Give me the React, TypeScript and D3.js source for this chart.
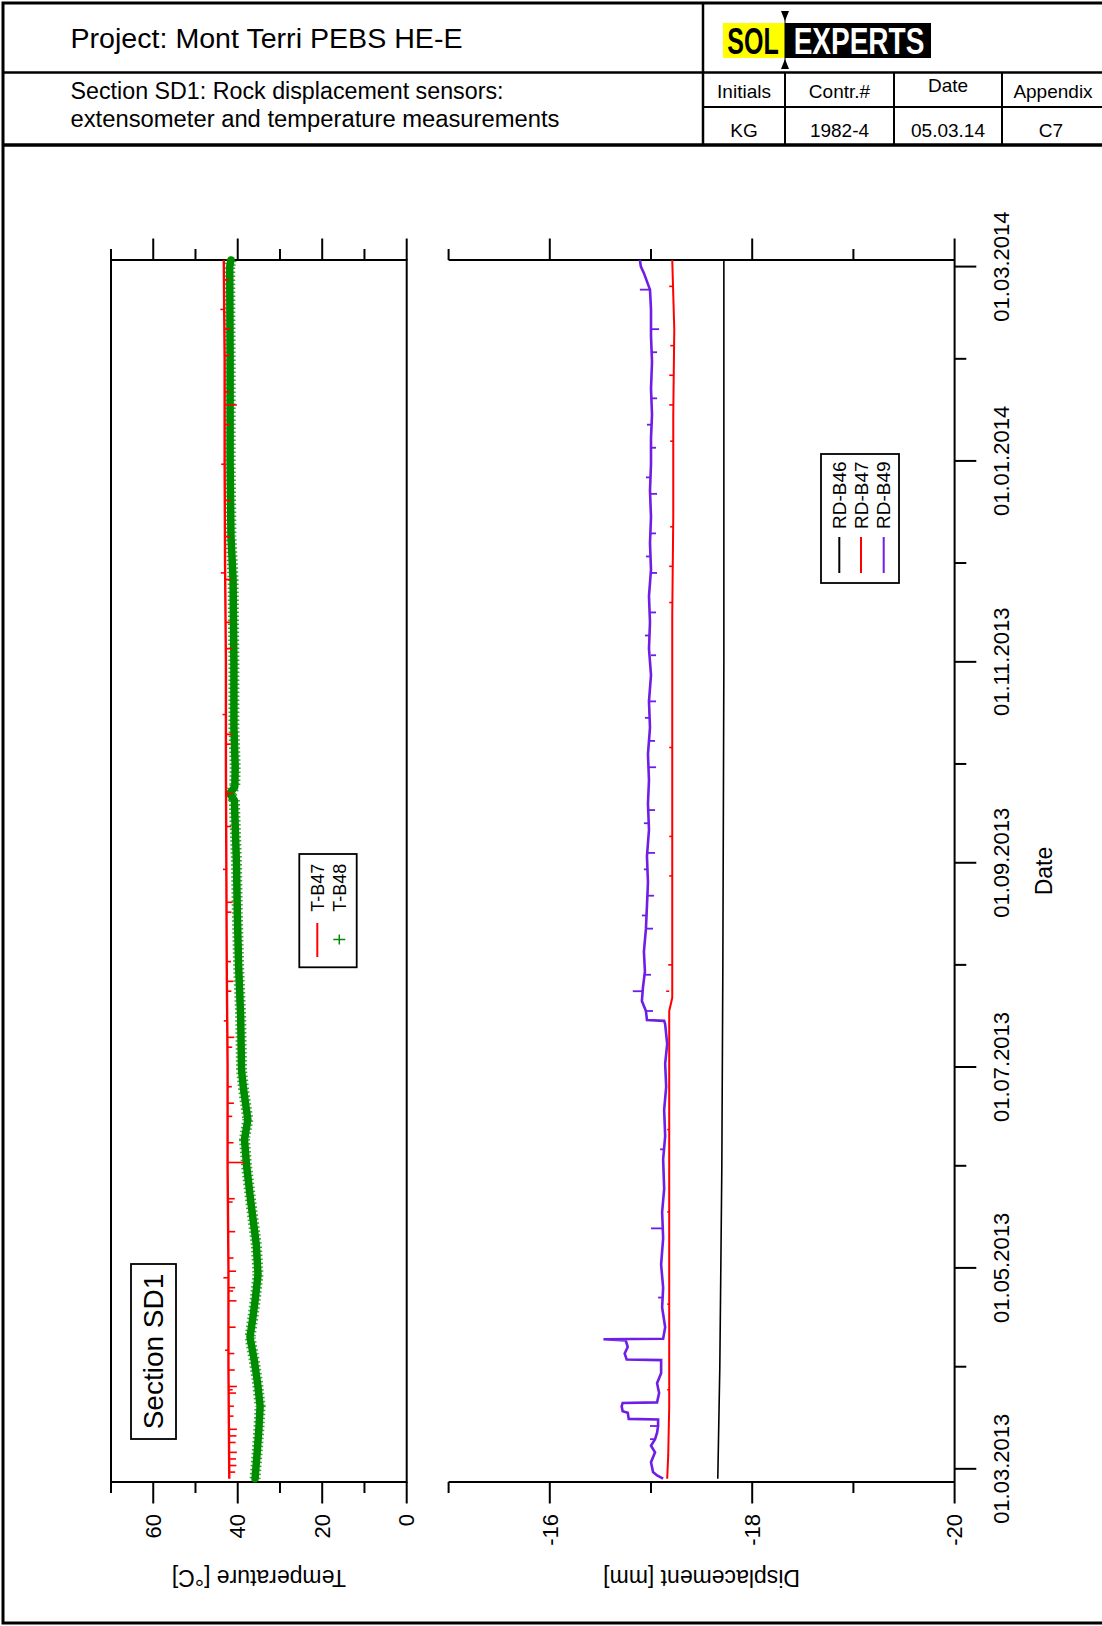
import * as d3 from "d3";
import React from "react";

// ---- axis ticks ----
const tempTicks = [70, 60, 50, 40, 30, 20, 10, 0];
const tempLabels = [60, 40, 20, 0];
const dispTicks = [-15, -16, -17, -18, -19, -20];
const dispLabels = [-16, -18, -20];
const dateTicks = [
  "2013-03-01", "2013-04-01", "2013-05-01", "2013-06-01", "2013-07-01",
  "2013-08-01", "2013-09-01", "2013-10-01", "2013-11-01", "2013-12-01",
  "2014-01-01", "2014-02-01", "2014-03-01",
];
const dateLabels = [
  "2013-03-01", "2013-05-01", "2013-07-01", "2013-09-01",
  "2013-11-01", "2014-01-01", "2014-03-01",
];

// ---- temperature [°C] ----
const tB47 = [
  ["2013-02-26", 42.0], ["2013-03-15", 42.1], ["2013-04-01", 42.2],
  ["2013-05-01", 42.2], ["2013-06-01", 42.4], ["2013-07-01", 42.4],
  ["2013-08-01", 42.6], ["2013-09-01", 42.7], ["2013-10-01", 42.8],
  ["2013-11-01", 42.8], ["2013-12-01", 43.0], ["2014-01-01", 43.1],
  ["2014-02-01", 43.1], ["2014-03-03", 43.3],
];
// [date, line value, spike value]
const tB47Spikes = [
  ["2013-02-28", 42.0, 40.6], ["2013-03-02", 42.0, 40.3], ["2013-03-04", 42.0, 40.4],
  ["2013-03-06", 42.0, 40.2], ["2013-03-09", 42.0, 40.5], ["2013-03-11", 42.1, 40.3],
  ["2013-03-13", 42.1, 40.2], ["2013-03-17", 42.1, 41.0], ["2013-03-20", 42.1, 40.9],
  ["2013-03-24", 42.1, 40.4], ["2013-03-25", 42.1, 41.2], ["2013-03-26", 42.1, 40.2],
  ["2013-03-31", 42.2, 40.7], ["2013-04-05", 42.2, 40.8], ["2013-04-06", 42.2, 43.0],
  ["2013-04-13", 42.2, 40.5], ["2013-04-21", 42.2, 40.3], ["2013-04-24", 42.2, 41.1],
  ["2013-04-25", 42.2, 40.6], ["2013-04-28", 42.2, 43.4], ["2013-04-30", 42.2, 40.4],
  ["2013-05-04", 42.3, 41.0], ["2013-05-12", 42.3, 40.6], ["2013-05-21", 42.3, 41.2],
  ["2013-05-22", 42.3, 40.7], ["2013-06-02", 42.4, 38.4], ["2013-06-08", 42.4, 41.0],
  ["2013-06-16", 42.4, 41.3], ["2013-06-20", 42.4, 40.9], ["2013-06-25", 42.4, 41.4],
  ["2013-07-07", 42.5, 41.3], ["2013-07-10", 42.5, 40.8], ["2013-07-15", 42.5, 43.3],
  ["2013-07-24", 42.6, 41.5], ["2013-07-27", 42.6, 41.0], ["2013-08-02", 42.6, 41.6],
  ["2013-08-17", 42.6, 41.5], ["2013-08-20", 42.6, 41.2], ["2013-08-30", 42.7, 43.5],
  ["2013-09-12", 42.7, 41.6], ["2013-09-22", 42.7, 41.2], ["2013-10-07", 42.8, 41.7],
  ["2013-10-10", 42.8, 41.3], ["2013-10-16", 42.8, 43.6], ["2013-11-05", 42.9, 41.4],
  ["2013-11-13", 42.9, 41.8], ["2013-11-26", 42.9, 41.7], ["2013-11-28", 42.9, 44.0],
  ["2013-12-09", 43.0, 41.9], ["2013-12-20", 43.0, 41.6], ["2013-12-31", 43.1, 43.9],
  ["2014-01-12", 43.1, 41.9], ["2014-01-18", 43.1, 40.2], ["2014-01-22", 43.1, 42.0],
  ["2014-02-02", 43.1, 41.9], ["2014-02-10", 43.1, 41.8], ["2014-02-16", 43.2, 44.1],
  ["2014-02-25", 43.2, 42.1],
];
const tB48 = [
  ["2013-02-26", 35.9], ["2013-03-06", 35.4], ["2013-03-13", 35.0],
  ["2013-03-20", 34.7], ["2013-03-27", 35.3], ["2013-04-03", 36.1],
  ["2013-04-10", 37.1], ["2013-04-16", 36.4], ["2013-04-22", 35.8],
  ["2013-04-29", 35.2], ["2013-05-08", 35.6], ["2013-05-21", 36.9],
  ["2013-06-01", 37.9], ["2013-06-09", 38.4], ["2013-06-15", 37.6],
  ["2013-06-24", 38.6], ["2013-06-30", 39.1], ["2013-07-16", 39.3],
  ["2013-08-01", 39.8], ["2013-08-17", 40.1], ["2013-09-01", 40.3],
  ["2013-09-20", 40.8], ["2013-09-22", 41.9], ["2013-09-24", 40.7],
  ["2013-09-30", 40.6], ["2013-10-12", 40.9], ["2013-10-31", 40.9],
  ["2013-11-26", 41.1], ["2013-12-09", 41.6], ["2014-01-01", 41.8],
  ["2014-01-31", 41.8], ["2014-03-01", 41.9], ["2014-03-03", 41.6],
];

// ---- displacement [mm] ----
const rdB46 = [
  ["2013-02-26", -17.66], ["2013-03-15", -17.67], ["2013-04-01", -17.68],
  ["2013-05-01", -17.69], ["2013-06-01", -17.7], ["2013-08-01", -17.71],
  ["2013-11-01", -17.72], ["2014-03-03", -17.72],
];
const rdB47 = [
  ["2013-02-26", -17.16], ["2013-03-05", -17.17], ["2013-03-20", -17.18],
  ["2013-04-15", -17.18], ["2013-05-15", -17.18], ["2013-06-15", -17.18],
  ["2013-07-18", -17.18], ["2013-07-22", -17.21], ["2013-08-15", -17.21],
  ["2013-09-15", -17.21], ["2013-10-15", -17.21], ["2013-11-15", -17.21],
  ["2013-12-15", -17.22], ["2014-01-15", -17.22], ["2014-02-10", -17.23],
  ["2014-03-03", -17.21],
];
const rdB47Spikes = [
  ["2013-03-25", -17.18, -17.16], ["2013-04-20", -17.18, -17.16], ["2013-05-18", -17.18, -17.16],
  ["2013-06-12", -17.18, -17.16], ["2013-07-24", -17.18, -17.15], ["2013-08-01", -17.21, -17.17],
  ["2013-08-28", -17.21, -17.18], ["2013-09-09", -17.21, -17.18], ["2013-10-06", -17.21, -17.18],
  ["2013-11-19", -17.21, -17.18], ["2013-11-30", -17.21, -17.18], ["2013-12-12", -17.22, -17.19],
  ["2014-01-07", -17.22, -17.19], ["2014-01-18", -17.22, -17.18], ["2014-01-27", -17.22, -17.18],
  ["2014-02-05", -17.23, -17.19], ["2014-02-23", -17.22, -17.18],
];
const rdB49 = [
  ["2013-02-26", -17.12], ["2013-02-27", -17.06], ["2013-02-28", -17.02],
  ["2013-03-03", -17.0], ["2013-03-06", -17.04], ["2013-03-08", -17.0],
  ["2013-03-10", -17.04], ["2013-03-12", -17.06], ["2013-03-14", -17.07],
  ["2013-03-16", -17.07], ["2013-03-16T04", -16.78], ["2013-03-18", -16.77],
  ["2013-03-18T12", -16.72], ["2013-03-20", -16.71], ["2013-03-21", -16.72],
  ["2013-03-21T04", -17.06], ["2013-03-24", -17.08], ["2013-03-27", -17.06],
  ["2013-03-30", -17.1], ["2013-04-03", -17.1], ["2013-04-03T04", -16.76],
  ["2013-04-05", -16.74], ["2013-04-07", -16.77], ["2013-04-09", -16.75],
  ["2013-04-09T08", -16.53], ["2013-04-09T12", -17.12], ["2013-04-13", -17.14],
  ["2013-04-19", -17.11], ["2013-04-25", -17.12], ["2013-05-02", -17.1],
  ["2013-05-10", -17.12], ["2013-05-18", -17.11], ["2013-05-25", -17.13],
  ["2013-06-03", -17.12], ["2013-06-10", -17.14], ["2013-06-18", -17.13],
  ["2013-06-25", -17.15], ["2013-07-02", -17.14], ["2013-07-08", -17.16],
  ["2013-07-14", -17.14], ["2013-07-15", -17.13], ["2013-07-15T06", -16.96],
  ["2013-07-18", -16.95], ["2013-07-21", -16.91], ["2013-07-25", -16.92],
  ["2013-07-30", -16.94], ["2013-08-05", -16.93], ["2013-08-12", -16.95],
  ["2013-08-19", -16.96], ["2013-08-26", -16.97], ["2013-09-03", -16.96],
  ["2013-09-11", -16.98], ["2013-09-19", -16.97], ["2013-09-26", -16.98],
  ["2013-10-04", -16.97], ["2013-10-12", -16.99], ["2013-10-20", -16.98],
  ["2013-10-28", -17.0], ["2013-11-05", -16.98], ["2013-11-13", -16.99],
  ["2013-11-21", -16.98], ["2013-11-29", -17.0], ["2013-12-07", -16.99],
  ["2013-12-15", -17.0], ["2013-12-23", -16.99], ["2013-12-31", -17.0],
  ["2014-01-08", -17.0], ["2014-01-15", -17.01], ["2014-01-23", -17.0],
  ["2014-01-31", -17.01], ["2014-02-08", -17.0], ["2014-02-16", -17.0],
  ["2014-02-22", -16.99], ["2014-02-27", -16.93], ["2014-03-01", -16.9],
  ["2014-03-03", -16.89],
];
const rdB49Spikes = [
  ["2013-03-10", -17.04, -16.99], ["2013-03-14", -17.07, -16.99], ["2013-04-22", -17.11, -17.07],
  ["2013-05-13", -17.12, -17.0], ["2013-06-06", -17.12, -17.09], ["2013-07-18", -16.95, -17.02],
  ["2013-07-24", -16.92, -16.82], ["2013-07-29", -16.93, -17.0], ["2013-08-12", -16.95, -17.02],
  ["2013-08-16", -16.95, -16.91], ["2013-08-22", -16.96, -17.03], ["2013-08-30", -16.97, -16.93],
  ["2013-09-04", -16.97, -17.04], ["2013-09-13", -16.98, -16.93], ["2013-09-17", -16.98, -17.04],
  ["2013-09-30", -16.98, -17.05], ["2013-10-08", -16.99, -17.04], ["2013-10-15", -16.99, -16.94],
  ["2013-10-20", -16.99, -17.05], ["2013-11-03", -17.0, -17.05], ["2013-11-09", -16.99, -16.94],
  ["2013-11-16", -16.99, -17.05], ["2013-11-28", -17.0, -17.06], ["2013-12-03", -17.0, -16.95],
  ["2013-12-10", -17.0, -17.05], ["2013-12-22", -17.0, -17.06], ["2013-12-27", -17.0, -16.95],
  ["2014-01-05", -17.0, -17.05], ["2014-01-12", -17.0, -16.96], ["2014-01-20", -17.01, -17.06],
  ["2014-02-03", -17.01, -17.06], ["2014-02-10", -17.0, -17.08], ["2014-02-22", -16.99, -16.89],
];

const FONT = "'Liberation Sans', Arial, sans-serif";
const RED = "#ff0000";
const GREEN = "#008c00";
const PURPLE = "#6e1ee6";

const plotTop = 260;
const plotBottom = 1482;
const tempRange = [111, 406.7];
const dispRange = [448.6, 954.6];

const pd = (s: string) => new Date(s.length > 10 ? `${s}:00:00Z` : `${s}T00:00:00Z`);

const y = d3.scaleUtc().domain([pd("2013-02-25"), pd("2014-03-03")]).range([plotBottom, plotTop]);
const xT = d3.scaleLinear().domain([70, 0]).range(tempRange);
const xD = d3.scaleLinear().domain([-15, -20]).range(dispRange);
const fmtDate = d3.utcFormat("%d.%m.%Y");

const lineT = d3.line<any>().x((d) => xT(d[1])).y((d) => y(pd(d[0])));
const lineD = d3.line<any>().x((d) => xD(d[1])).y((d) => y(pd(d[0])));

const VText = ({ x, y: yy, anchor = "middle", size = 22, dy = "0", children }: any) => (
  <text
    transform={`translate(${x},${yy}) rotate(-90)`}
    textAnchor={anchor}
    fontSize={size}
    dy={dy}
  >
    {children}
  </text>
);

// horizontal spike marks: [date, from, to]
const Spikes = ({ data, x, color, width }: any) => (
  <g stroke={color} strokeWidth={width}>
    {data.map((s: any, i: number) => (
      <line key={i} x1={x(s[1])} x2={x(s[2])} y1={y(pd(s[0]))} y2={y(pd(s[0]))} />
    ))}
  </g>
);

const App = () => {
  const tickLen = (major: boolean) => (major ? 21.5 : 11);
  return (
    <>
      <style>{`body{margin:0}`}</style>
      <svg width={1102} height={1626} style={{ display: "block", fontFamily: FONT }}>
        <rect width={1102} height={1626} fill="#fff" />

        {/* frame + header */}
        <g stroke="#000" fill="none">
          <rect x={3} y={3} width={1110} height={1620} strokeWidth={3} />
          <line x1={3} x2={1102} y1={72.6} y2={72.6} strokeWidth={2.5} />
          <line x1={3} x2={1102} y1={145} y2={145} strokeWidth={3.5} />
          <line x1={703} x2={703} y1={3} y2={145} strokeWidth={2.5} />
          <line x1={703} x2={1102} y1={107} y2={107} strokeWidth={2} />
          {[785, 894, 1002].map((x) => (
            <line key={x} x1={x} x2={x} y1={72.6} y2={145} strokeWidth={2} />
          ))}
        </g>
        <text x={70.5} y={48} fontSize={27} textLength={392} lengthAdjust="spacingAndGlyphs">
          Project: Mont Terri PEBS HE-E
        </text>
        <text x={70.5} y={99} fontSize={23.5} textLength={433} lengthAdjust="spacingAndGlyphs">
          Section SD1: Rock displacement sensors:
        </text>
        <text x={70.5} y={127} fontSize={23.5} textLength={489} lengthAdjust="spacingAndGlyphs">
          extensometer and temperature measurements
        </text>
        <g fontSize={19} textAnchor="middle">
          <text x={744} y={98}>Initials</text>
          <text x={839.5} y={98}>Contr.#</text>
          <text x={948} y={92}>Date</text>
          <text x={1053} y={98}>Appendix</text>
          <text x={744} y={137}>KG</text>
          <text x={839.5} y={137}>1982-4</text>
          <text x={948} y={137}>05.03.14</text>
          <text x={1051} y={137}>C7</text>
        </g>
        {/* logo */}
        <rect x={723} y={23} width={62} height={35} fill="#ffff00" />
        <rect x={785} y={23} width={146} height={35} fill="#000" />
        <text transform="translate(753,54) scale(1,1.45)" fontSize={25} fontWeight="bold" textAnchor="middle">
          SOL
        </text>
        <text transform="translate(859,54) scale(1,1.3)" fontSize={28} fontWeight="bold" textAnchor="middle" fill="#fff">
          EXPERTS
        </text>
        <polygon points="781,11 789,11 785,21" fill="#000" />
        <polygon points="781,69 789,69 785,59" fill="#000" />
        <line x1={785} x2={785} y1={11} y2={69} stroke="#000" strokeWidth={1} />

        {/* temperature panel */}
        <g stroke="#000" strokeWidth={2} fill="none">
          <rect x={tempRange[0]} y={plotTop} width={tempRange[1] - tempRange[0]} height={plotBottom - plotTop} />
          {tempTicks.map((v) => {
            const len = tickLen(tempLabels.includes(v));
            return (
              <g key={v}>
                <line x1={xT(v)} x2={xT(v)} y1={plotTop} y2={plotTop - len} />
                <line x1={xT(v)} x2={xT(v)} y1={plotBottom} y2={plotBottom + len} />
              </g>
            );
          })}
        </g>
        <g fontSize={22}>
          {tempLabels.map((v) => (
            <VText key={v} x={xT(v)} y={1514} anchor="end" dy="0.35em">
              {v}
            </VText>
          ))}
        </g>
        <text transform={`translate(${(tempRange[0] + tempRange[1]) / 2},1570) rotate(180)`} textAnchor="middle" fontSize={23}>
          Temperature [°C]
        </text>

        <path d={lineT(tB48) || ""} fill="none" stroke={GREEN} strokeWidth={11} strokeDasharray="1.5 2.5" strokeOpacity={0.8} />
        <path d={lineT(tB48) || ""} fill="none" stroke={GREEN} strokeWidth={7.5} strokeLinejoin="round" strokeLinecap="round" />
        <path d={lineT(tB47) || ""} fill="none" stroke={RED} strokeWidth={2.4} />
        <Spikes data={tB47Spikes} x={xT} color={RED} width={1.6} />

        {/* temperature legend */}
        <rect x={299.3} y={854} width={57.4} height={113.3} fill="#fff" stroke="#000" strokeWidth={1.8} />
        <line x1={317.3} x2={317.3} y1={923} y2={957} stroke={RED} strokeWidth={2} />
        <path d="M333.3,939.5h12M339.3,934.5v10" stroke={GREEN} strokeWidth={1.5} />
        <VText x={317.3} y={911.7} anchor="start" size={18} dy="0.35em">T-B47</VText>
        <VText x={339.3} y={911.7} anchor="start" size={18} dy="0.35em">T-B48</VText>

        {/* section label */}
        <rect x={131} y={1264} width={45} height={175} fill="#fff" stroke="#000" strokeWidth={1.8} />
        <VText x={153.2} y={1351.5} size={28} dy="0.35em">Section SD1</VText>

        {/* displacement panel */}
        <g stroke="#000" strokeWidth={2} fill="none">
          <line x1={dispRange[0]} x2={dispRange[1]} y1={plotTop} y2={plotTop} />
          <line x1={dispRange[0]} x2={dispRange[1]} y1={plotBottom} y2={plotBottom} />
          <line x1={dispRange[1]} x2={dispRange[1]} y1={plotTop} y2={plotBottom} />
          {dispTicks.map((v) => {
            const len = tickLen(dispLabels.includes(v));
            return (
              <g key={v}>
                <line x1={xD(v)} x2={xD(v)} y1={plotTop} y2={plotTop - len} />
                <line x1={xD(v)} x2={xD(v)} y1={plotBottom} y2={plotBottom + len} />
              </g>
            );
          })}
          {dateTicks.map((t) => {
            const major = dateLabels.includes(t);
            return (
              <line key={t} x1={dispRange[1]} x2={dispRange[1] + (major ? 21.7 : 11.7)} y1={y(pd(t))} y2={y(pd(t))} />
            );
          })}
        </g>
        <g fontSize={22}>
          {dispLabels.map((v) => (
            <VText key={v} x={xD(v)} y={1514} anchor="end" dy="0.35em">
              {v}
            </VText>
          ))}
          {dateLabels.map((t) => (
            <VText key={t} x={1008.5} y={y(pd(t))}>
              {fmtDate(pd(t))}
            </VText>
          ))}
        </g>
        <VText x={1052} y={(plotTop + plotBottom) / 2} size={23}>Date</VText>
        <text transform={`translate(${(dispRange[0] + dispRange[1]) / 2},1570) rotate(180)`} textAnchor="middle" fontSize={23}>
          Displacement [mm]
        </text>

        <path d={lineD(rdB46) || ""} fill="none" stroke="#000" strokeWidth={1.6} />
        <path d={lineD(rdB47) || ""} fill="none" stroke={RED} strokeWidth={2} />
        <Spikes data={rdB47Spikes} x={xD} color={RED} width={1.6} />
        <path d={lineD(rdB49) || ""} fill="none" stroke={PURPLE} strokeWidth={2.6} />
        <Spikes data={rdB49Spikes} x={xD} color={PURPLE} width={1.8} />

        {/* displacement legend */}
        <rect x={821} y={454} width={78} height={129} fill="#fff" stroke="#000" strokeWidth={1.8} />
        {[
          ["RD-B46", "#000", 839.3],
          ["RD-B47", RED, 861],
          ["RD-B49", PURPLE, 883.7],
        ].map(([name, color, x]: any) => (
          <g key={name}>
            <line x1={x} x2={x} y1={537} y2={573} stroke={color} strokeWidth={2} />
            <VText x={x} y={529} anchor="start" size={19} dy="0.35em">{name}</VText>
          </g>
        ))}
      </svg>
    </>
  );
};

export default App;
